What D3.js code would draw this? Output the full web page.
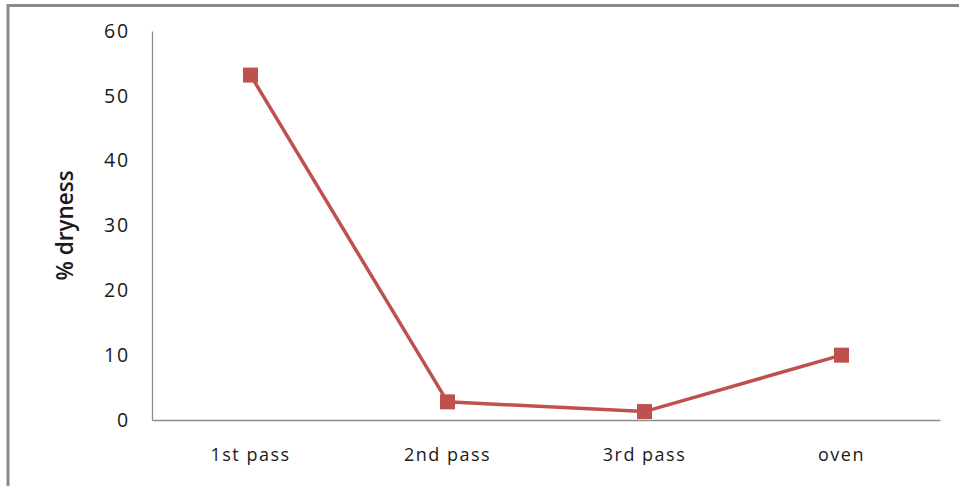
<!DOCTYPE html>
<html>
<head>
<meta charset="utf-8">
<script src="https://cdn.jsdelivr.net/npm/d3@7"></script>
<style>
  body { margin: 0; background: #fff; }
  svg { display: block; }
  text { font-family: "Open Sans", Lato, sans-serif; fill: #1a1a1a; }
</style>
</head>
<body>
<div id="chart"></div>
<script>
// data
const stages = ["1st pass", "2nd pass", "3rd pass", "oven"];
const dryness = [53.2, 2.8, 1.3, 10];
const yTicks = [0, 10, 20, 30, 40, 50, 60];

const width = 959, height = 486;
const plotLeft = 152, plotRight = 940, plotTop = 31, plotBottom = 420;

const svg = d3.select("#chart").append("svg")
    .attr("width", width)
    .attr("height", height);

// outer frame (only top and left visible in the crop)
svg.append("path")
    .attr("d", `M8,${height} V5.5 H${width}`)
    .attr("fill", "none")
    .attr("stroke", "#8a8a8a")
    .attr("stroke-width", 3);

const x = d3.scaleBand().domain(stages).range([plotLeft, plotRight]);
const y = d3.scaleLinear().domain([0, 60]).range([plotBottom, plotTop]);

// y axis
const yAxis = svg.append("g")
    .attr("transform", `translate(${plotLeft},0)`)
    .call(d3.axisLeft(y).tickValues(yTicks).tickSize(0).tickPadding(22));
yAxis.select(".domain").attr("stroke", "#8c8c8c").attr("stroke-width", 1.3);
yAxis.selectAll("text")
    .attr("font-size", 19.5)
    .attr("letter-spacing", 1.8)
    .attr("fill", "#1a1a1a");

// x axis
const xAxis = svg.append("g")
    .attr("transform", `translate(0,${plotBottom})`)
    .call(d3.axisBottom(x).tickSize(0).tickPadding(28));
xAxis.select(".domain").attr("stroke", "#8c8c8c").attr("stroke-width", 1.3);
xAxis.selectAll("text")
    .attr("font-size", 18)
    .attr("letter-spacing", 1.5)
    .attr("fill", "#1a1a1a");

// y label
svg.append("text")
    .attr("transform", `translate(73,${(plotTop + plotBottom) / 2}) rotate(-90)`)
    .attr("text-anchor", "middle")
    .attr("font-size", 22.5)
    .attr("font-weight", 600)
    .text("% dryness");

const pts = stages.map((s, i) => ({ stage: s, value: dryness[i] }));
const cx = d => x(d.stage) + x.bandwidth() / 2;

svg.append("path")
    .datum(pts)
    .attr("fill", "none")
    .attr("stroke", "#c0504d")
    .attr("stroke-width", 3.5)
    .attr("d", d3.line().x(cx).y(d => y(d.value)));

const m = 15;
svg.selectAll("rect.marker")
    .data(pts)
    .join("rect")
    .attr("class", "marker")
    .attr("x", d => cx(d) - m / 2)
    .attr("y", d => y(d.value) - m / 2)
    .attr("width", m)
    .attr("height", m)
    .attr("fill", "#c0504d");
</script>
</body>
</html>
